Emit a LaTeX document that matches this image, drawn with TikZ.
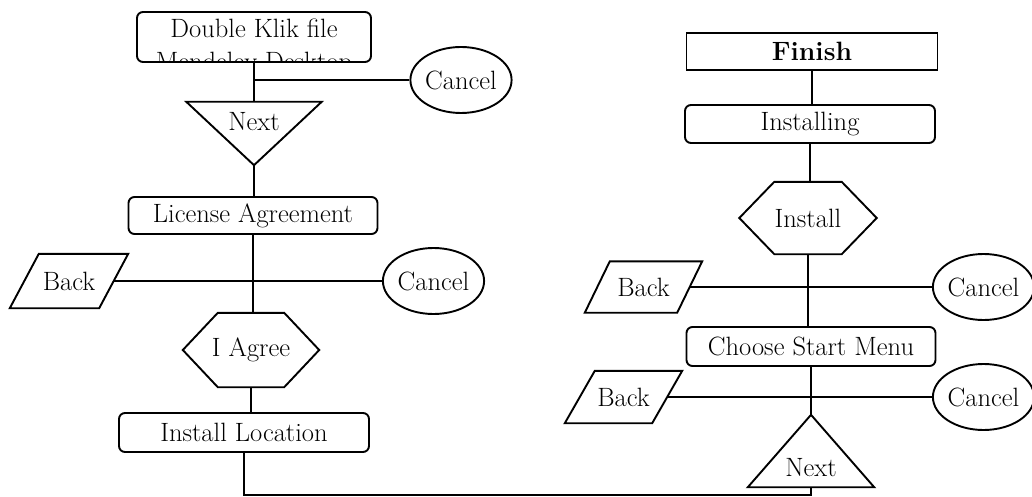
\documentclass[tikz,border=0pt]{standalone}
\usetikzlibrary{shapes.geometric,calc}
\newcommand\dfont{\fontsize{26.5}{31}\selectfont}
\tikzset{
  ln/.style={line width=1.9pt},
  rbox/.style={draw, ln, rectangle, rounded corners=6pt, inner sep=0pt, font=\dfont},
  sbox/.style={draw, ln, rectangle, inner sep=0pt, font=\dfont\bfseries},
  oval/.style={draw, ln, ellipse, inner sep=0pt, minimum width=101pt, minimum height=66pt, font=\dfont},
  ghost/.style={rectangle, inner sep=0pt, font=\dfont},
  txt/.style={inner sep=0pt, font=\dfont},
}
\begin{document}
\begin{tikzpicture}[x=1pt,y=-1pt]
\useasboundingbox (0,0) rectangle (1032,497);
% ---------------- left column ----------------
\node[rbox, minimum width=234pt, minimum height=50pt] (st) at (254,37) {};
\begin{scope}
  \clip (st.south west) rectangle (st.north east);
  \node[txt, anchor=base] (st1) at (254,38) {Double Klik file};
  \node[txt, anchor=base] (st2) at (254,71) {Mendeley Desktop};
\end{scope}
\node[oval] (c1) at (461,80) {Cancel};
\coordinate (j1) at (254,80);
% Next (inverted triangle)
\node[ghost, minimum width=135pt, minimum height=63pt] (n1) at (254,133.5) {};
\draw[ln] (n1.north west) -- (n1.north east) -- (n1.south) -- cycle;
\node[txt, anchor=base] (n1t) at (254,131) {Next};
\node[rbox, minimum width=249pt, minimum height=37pt] (la) at (253,215.5) {License Agreement};
% Back (parallelogram)
\node[ghost, minimum width=118pt, minimum height=54pt] (b1) at (69,281) {Back};
\draw[ln] ([xshift=29pt]b1.north west) -- (b1.north east) -- ([xshift=-29pt]b1.south east) -- (b1.south west) -- cycle;
\node[oval] (c2) at (433.5,281) {Cancel};
% I Agree (hexagon)
\node[ghost, minimum width=136pt, minimum height=74pt] (ia) at (251,350) {I Agree};
\draw[ln] (ia.west) -- ([xshift=35pt]ia.north west) -- ([xshift=-35pt]ia.north east) -- (ia.east) -- ([xshift=-35pt]ia.south east) -- ([xshift=35pt]ia.south west) -- cycle;
\node[rbox, minimum width=250pt, minimum height=39pt] (il) at (244,432.5) {Install Location};
% ---------------- right column ----------------
\node[sbox, minimum width=251pt, minimum height=37pt] (fi) at (812,51.5) {Finish};
\node[rbox, minimum width=250pt, minimum height=38pt] (ig) at (810,124) {Installing};
\node[ghost, minimum width=137pt, minimum height=72pt] (in) at (808,218) {Install};
\draw[ln] (in.west) -- ([xshift=35pt]in.north west) -- ([xshift=-35pt]in.north east) -- (in.east) -- ([xshift=-35pt]in.south east) -- ([xshift=35pt]in.south west) -- cycle;
\node[ghost, minimum width=117pt, minimum height=51pt] (b2) at (643.5,287) {Back};
\draw[ln] ([xshift=25pt]b2.north west) -- (b2.north east) -- ([xshift=-25pt]b2.south east) -- (b2.south west) -- cycle;
\node[oval, minimum width=93pt] (c3) at (983.5,287) {Cancel};
\node[rbox, minimum width=249pt, minimum height=39pt] (cs) at (811,346.5) {Choose Start Menu};
\node[ghost, minimum width=117pt, minimum height=52pt] (b3) at (623.5,397) {Back};
\draw[ln] ([xshift=30pt]b3.north west) -- (b3.north east) -- ([xshift=-30pt]b3.south east) -- (b3.south west) -- cycle;
\node[oval, minimum width=93pt] (c4) at (983.5,397) {Cancel};
% Next (upright triangle)
\node[ghost, minimum width=126pt, minimum height=72pt] (n2) at (811,451) {};
\draw[ln] (n2.south west) -- (n2.south east) -- (n2.north) -- cycle;
\node[txt, anchor=base] (n2t) at (811,476) {Next};
\coordinate (bl) at (244,495);
% ---------------- connectors ----------------
\draw[ln] (st.south) -- (st.south |- n1.north);
\draw[ln] (j1) -- (c1.west);
\draw[ln] (n1.south) -- (n1.south |- la.north);
\draw[ln] (la.south) -- (la.south |- ia.north);
\draw[ln] ([xshift=-14.5pt]b1.east) -- (c2.west);
\draw[ln] (ia.south) -- (ia.south |- il.north);
\draw[ln] (il.south) -- (bl) -| (n2.south);
\draw[ln] (fi.south) -- (fi.south |- ig.north);
\draw[ln] (ig.south) -- (ig.south |- in.north);
\draw[ln] (in.south) -- (in.south |- cs.north);
\draw[ln] ([xshift=-12.5pt]b2.east) -- (c3.west);
\draw[ln] (cs.south) -- (cs.south |- n2.north);
\draw[ln] ([xshift=-15pt]b3.east) -- (c4.west);
\end{tikzpicture}
\end{document}
